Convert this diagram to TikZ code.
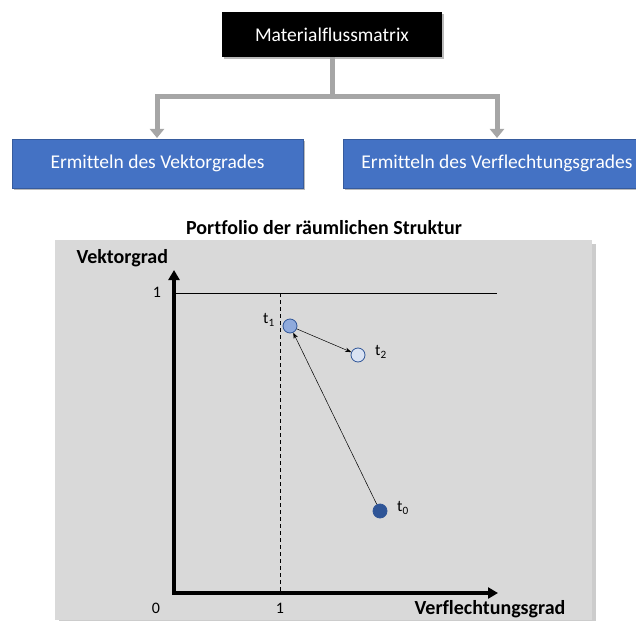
\documentclass[tikz,border=0pt]{standalone}
\usepackage{fontspec}
\setmainfont[Ligatures=NoCommon]{Carlito}
\usetikzlibrary{arrows.meta,shadows}
\definecolor{boxblue}{HTML}{4472C4}
\definecolor{panelgray}{HTML}{D9D9D9}
\definecolor{linkgray}{HTML}{A6A6A6}
\definecolor{ptdark}{HTML}{2F5597}
\definecolor{ptmid}{HTML}{8FAADC}
\definecolor{ptlight}{HTML}{DAE3F3}
\definecolor{ptedge}{HTML}{2F5597}
\begin{document}
\begin{tikzpicture}[x=1pt,y=-1pt,
  topbox/.style={fill=black,text=white,minimum width=220pt,minimum height=45pt,
    inner sep=0pt,font=\fontsize{19.5}{22}\selectfont,
    drop shadow={shadow xshift=2pt,shadow yshift=-2pt,fill=black!45,opacity=.6}},
  taskbox/.style={fill=boxblue,draw=boxblue!80!black,line width=0.5pt,text=white,
    minimum height=49pt,inner sep=0pt,font=\fontsize{19.5}{22}\selectfont,
    drop shadow={shadow xshift=2pt,shadow yshift=-2pt,fill=black!45,opacity=.6}},
  link/.style={draw=linkgray,line width=5pt},
  linkhead/.style={-{Triangle[length=9pt,width=14pt]},draw=linkgray,fill=linkgray,line width=5pt},
  axis/.style={line width=3.5pt,-{Triangle[length=10pt,width=11pt]}},
  point/.style={circle,draw=ptedge,line width=0.8pt,minimum size=14pt,inner sep=0pt},
  move/.style={line width=0.5pt,-{Stealth[length=6pt,width=4.5pt]}},
  lbl/.style={font=\fontsize{16}{18}\selectfont},
  bold/.style={font=\bfseries\fontsize{20}{22}\selectfont}]
\useasboundingbox (0,0) rectangle (636,620);

% hierarchy on top
\node[topbox] (mfm) at (332,34.5) {Materialflussmatrix};
\node[taskbox,minimum width=291pt] (vg) at (157.5,163.5) {Ermitteln des Vektorgrades};
\node[taskbox,minimum width=308pt] (fg) at (497,163.5) {Ermitteln des Verflechtungsgrades};
\coordinate (split) at (332,97);
\coordinate (ltop) at (157,97);
\coordinate (rtop) at (497,97);
\coordinate (lend) at (157,138);
\coordinate (rend) at (497,138);
\draw[link] (mfm.south) -- (split);
\draw[link,line cap=rect] (ltop) -- (rtop);
\draw[linkhead] (ltop) -- (lend);
\draw[linkhead] (rtop) -- (rend);

% portfolio
\node[bold] (title) at (324,228) {Portfolio der räumlichen Struktur};
\fill[black!40,opacity=.5] (59,244) rectangle (596,624);
\fill[panelgray] (55,240) rectangle (592,620);

\coordinate (origin) at (174,593);
\coordinate (ytip) at (174,270);
\coordinate (xtip) at (498,593);
\coordinate (topl) at (174,293);
\coordinate (topr) at (497,293);
\coordinate (dtop) at (280,293);
\coordinate (dbot) at (280,593);

\draw[line width=1pt] (topl) -- (topr);
\draw[dashed,line width=0.8pt,dash pattern=on 4pt off 3pt] (dtop) -- (dbot);
\draw[axis] ([yshift=1.75pt]origin) -- (ytip);
\draw[axis] ([xshift=-1.75pt]origin) -- (xtip);

\node[bold,anchor=west] (ylab) at (73,258) {Vektorgrad};
\node[bold,anchor=east] (xlab) at (569,609) {Verflechtungsgrad};
\node[lbl] (yone) at (157,292) {1};
\node[lbl] (xzero) at (156,608) {0};
\node[lbl] (xone) at (280,608) {1};

\node[point,fill=ptmid] (t1) at (290,326) {};
\node[point,fill=ptlight] (t2) at (358,355) {};
\node[point,fill=ptdark] (t0) at (380,511) {};
\node[lbl] (t1l) at (269,320) {t\textsubscript{1}};
\node[lbl] (t2l) at (381,352) {t\textsubscript{2}};
\node[lbl] (t0l) at (403,508) {t\textsubscript{0}};

\draw[move] (t0) -- (t1);
\draw[move] (t1) -- (t2);
\end{tikzpicture}
\end{document}
